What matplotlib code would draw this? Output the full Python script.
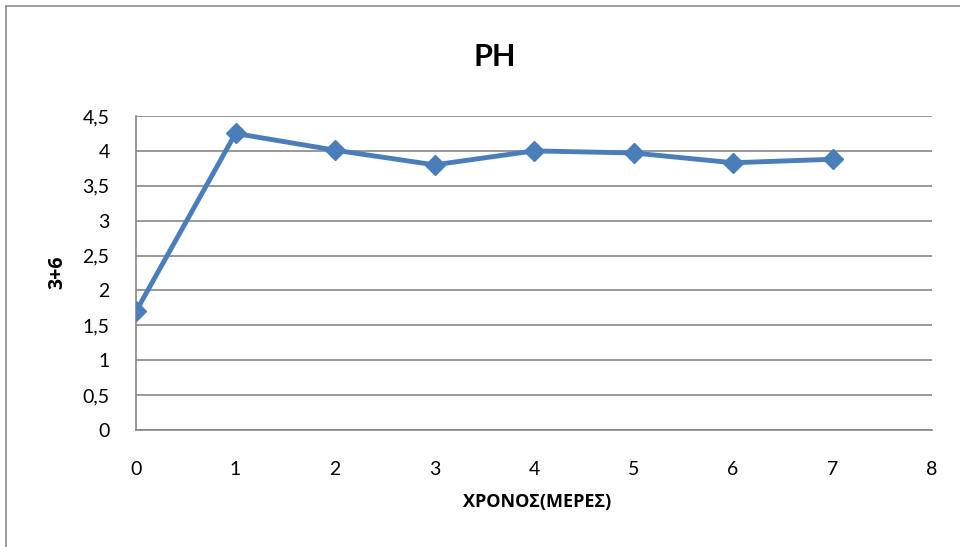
import matplotlib
matplotlib.use("Agg")
import matplotlib.pyplot as plt
import matplotlib.patches as patches
from matplotlib.ticker import FuncFormatter

plt.rcParams['font.family'] = ['Lato', 'DejaVu Sans']

# data
days = [0, 1, 2, 3, 4, 5, 6, 7]
ph = [1.70, 4.25, 4.01, 3.80, 4.00, 3.97, 3.83, 3.88]

title = "PH"
xlabel = "ΧΡΟΝΟΣ(ΜΕΡΕΣ)"
ylabel = "3+6"

line_color = '#4a7ebb'
grid_color = '#868686'

fig = plt.figure(figsize=(9.6, 5.47), dpi=100)
ax = fig.add_axes([136 / 960, 1 - 430 / 547, (932 - 136) / 960, (430 - 116) / 547])

# chart border (right and bottom edges fall outside the image)
fig.patches.append(patches.Rectangle(
    (6 / 960, -0.05), 1.2, 1 - 6 / 547 + 0.05,
    transform=fig.transFigure, fill=False, edgecolor='#8c8c8c', linewidth=1.2
))

ax.plot(days, ph, color=line_color, linewidth=3.5, marker='D', markersize=10,
        markerfacecolor=line_color, markeredgecolor=line_color, zorder=3)

ax.set_xlim(0, 8)
ax.set_ylim(0, 4.5)
ax.set_xticks(range(0, 9))
ax.set_yticks([i * 0.5 for i in range(10)])
ax.yaxis.set_major_formatter(FuncFormatter(lambda v, p: f"{v:g}".replace('.', ',')))

ax.grid(True, axis='y', color=grid_color, linewidth=1.2)
ax.set_axisbelow(True)
for side in ['top', 'right']:
    ax.spines[side].set_visible(False)
for side in ['left', 'bottom']:
    ax.spines[side].set_color(grid_color)
    ax.spines[side].set_linewidth(1.2)

ax.tick_params(axis='both', length=0, labelsize=14)
ax.tick_params(axis='y', pad=19)
ax.tick_params(axis='x', pad=22)

fig.text(495 / 960, 1 - 57 / 547, title, fontsize=22, fontweight='bold', ha='center', va='center')
fig.text(537 / 960, 1 - 502 / 547, xlabel, fontsize=13, fontweight='bold', ha='center', va='center',
         family=['Open Sans', 'DejaVu Sans'])
fig.text(57 / 960, 1 - 272 / 547, ylabel, fontsize=14, fontweight='bold', ha='center', va='center',
         rotation=90, family=['Open Sans', 'DejaVu Sans'])

fig.savefig("out.png", dpi=100)
